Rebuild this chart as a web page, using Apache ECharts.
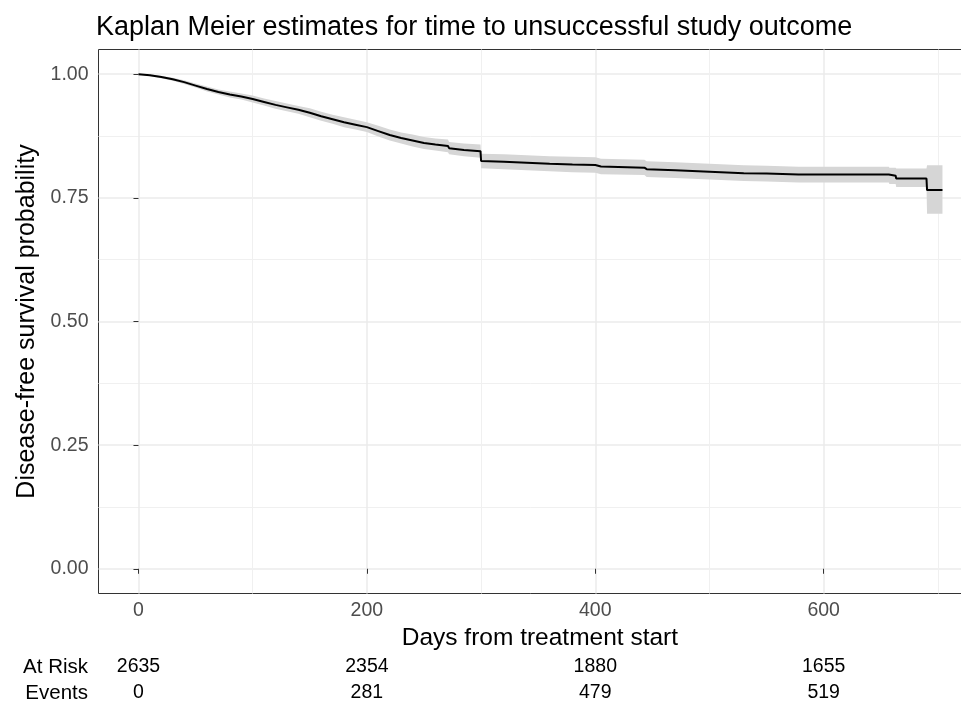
<!DOCTYPE html>
<html><head><meta charset="utf-8">
<script src="https://cdn.jsdelivr.net/npm/echarts@6/dist/echarts.min.js"></script>
<style>html,body{margin:0;padding:0;background:#fff}#c{width:961px;height:703px}</style>
</head><body><div id="c"></div>
<script>
// Kaplan-Meier estimate: vertices of the drawn curve
const days  = [0, 10, 20, 30, 40, 50, 60, 70, 80, 90, 100, 110, 120, 130, 140, 150, 160, 170, 180, 190, 200, 210, 220, 230, 240, 250, 260, 271, 272, 285, 299.5, 300, 320, 340, 360, 380, 400, 405, 443, 445, 470, 490, 510, 530, 550, 578, 657, 657.5, 663, 663.5, 690, 690.5, 704];
const surv  = [1.000, 0.998, 0.9945, 0.990, 0.984, 0.977, 0.970, 0.964, 0.959, 0.955, 0.950, 0.944, 0.938, 0.933, 0.928, 0.922, 0.915, 0.909, 0.903, 0.898, 0.893, 0.885, 0.877, 0.871, 0.866, 0.861, 0.858, 0.855, 0.8505, 0.847, 0.8445, 0.8245, 0.823, 0.821, 0.819, 0.8175, 0.8165, 0.8135, 0.811, 0.808, 0.806, 0.804, 0.802, 0.800, 0.7993, 0.7973, 0.7973, 0.7946, 0.7946, 0.7893, 0.7893, 0.7657, 0.7657];
const lower = [1.000, 0.996, 0.992, 0.987, 0.980, 0.973, 0.965, 0.959, 0.953, 0.949, 0.943, 0.937, 0.930, 0.925, 0.920, 0.913, 0.906, 0.900, 0.893, 0.888, 0.883, 0.874, 0.866, 0.860, 0.854, 0.849, 0.846, 0.842, 0.838, 0.834, 0.831, 0.810, 0.808, 0.806, 0.804, 0.802, 0.801, 0.798, 0.796, 0.792, 0.790, 0.788, 0.786, 0.784, 0.783, 0.781, 0.781, 0.778, 0.778, 0.772, 0.772, 0.718, 0.718];
const upper = [1.000, 1.000, 0.997, 0.993, 0.988, 0.981, 0.975, 0.969, 0.965, 0.961, 0.957, 0.951, 0.946, 0.941, 0.936, 0.931, 0.924, 0.918, 0.913, 0.908, 0.903, 0.896, 0.888, 0.882, 0.878, 0.873, 0.870, 0.868, 0.863, 0.860, 0.858, 0.839, 0.838, 0.836, 0.834, 0.833, 0.832, 0.829, 0.827, 0.824, 0.822, 0.820, 0.818, 0.816, 0.815, 0.813, 0.813, 0.811, 0.811, 0.8095, 0.8095, 0.816, 0.816];

// risk table
const riskDays = [0, 200, 400, 600];
const atRisk   = [2635, 2354, 1880, 1655];
const events   = [0, 281, 479, 519];

// axis ticks (major with labels, minor gridlines)
const xTickLabels = [0, 200, 400, 600];
const xMinorTicks = [100, 300, 500, 700];
const yTickLabels = [0, 0.25, 0.5, 0.75, 1];
const yMinorTicks = [0.125, 0.375, 0.625, 0.875];

const FONT = '"Liberation Sans", Arial, Helvetica, sans-serif';
const chart = echarts.init(document.getElementById('c'), null, {renderer: 'canvas'});

const xMin = -35, xMax = 738, yMin = -0.05, yMax = 1.05;

const lineData = days.map((d, i) => [d, surv[i]]);

chart.setOption({
  animation: false,
  textStyle: {fontFamily: FONT},
  title: {
    text: 'Kaplan Meier estimates for time to unsuccessful study outcome',
    left: 96, top: 14, padding: 0,
    textStyle: {fontFamily: FONT, fontSize: 27, fontWeight: 'normal', color: '#000'}
  },
  grid: [{left: 98.5, top: 49.5, width: 882.8, height: 544, show: true,
          borderColor: '#333333', borderWidth: 1, backgroundColor: '#ffffff',
          containLabel: false, outerBoundsMode: 'none'}],
  xAxis: [{
    type: 'value', min: xMin, max: xMax, interval: 200,
    name: 'Days from treatment start', nameLocation: 'middle', nameGap: 31,
    nameTextStyle: {fontFamily: FONT, fontSize: 24.5, color: '#000'},
    axisLine: {show: false},
    axisTick: {show: true, length: 5, lineStyle: {color: '#333333', width: 1},
               customValues: xTickLabels},
    axisLabel: {fontFamily: FONT, fontSize: 19.5, color: '#4D4D4D', margin: 7,
                customValues: xTickLabels,
                formatter: v => String(v)},
    splitLine: {show: true, lineStyle: {color: '#EBEBEB', width: 1.5}}
  }, {
    type: 'value', min: xMin, max: xMax, gridIndex: 0,
    axisLine: {show: false},
    axisTick: {show: false, customValues: xMinorTicks},
    axisLabel: {show: false, customValues: xMinorTicks},
    splitLine: {show: true, lineStyle: {color: '#F0F0F0', width: 1}}
  }],
  yAxis: [{
    type: 'value', min: yMin, max: yMax, interval: 0.25,
    name: 'Disease-free survival probability', nameLocation: 'middle', nameGap: 43, nameRotate: 90,
    nameTextStyle: {fontFamily: FONT, fontSize: 25, color: '#000'},
    axisLine: {show: false},
    axisTick: {show: true, length: 5, lineStyle: {color: '#333333', width: 1},
               customValues: yTickLabels},
    axisLabel: {fontFamily: FONT, fontSize: 19.5, color: '#4D4D4D', margin: 10,
                customValues: yTickLabels,
                formatter: v => v.toFixed(2)},
    splitLine: {show: true, lineStyle: {color: '#EBEBEB', width: 1.5}}
  }, {
    type: 'value', min: yMin, max: yMax, gridIndex: 0,
    axisLine: {show: false},
    axisTick: {show: false, customValues: yMinorTicks},
    axisLabel: {show: false, customValues: yMinorTicks},
    splitLine: {show: true, lineStyle: {color: '#F0F0F0', width: 1}}
  }],
  series: [{
    type: 'custom', name: 'band', coordinateSystem: 'cartesian2d',
    xAxisIndex: 0, yAxisIndex: 0, data: [[days[0], surv[0]]], clip: true, silent: true, z: 2,
    renderItem: (params, api) => {
      const pts = [];
      for (let i = 0; i < days.length; i++) pts.push(api.coord([days[i], upper[i]]));
      for (let i = days.length - 1; i >= 0; i--) pts.push(api.coord([days[i], lower[i]]));
      return {type: 'polygon', shape: {points: pts}, style: {fill: '#D6D6D6'}};
    }
  }, {
    type: 'line', name: 'KM', data: lineData, xAxisIndex: 0, yAxisIndex: 0,
    symbol: 'none', lineStyle: {color: '#000000', width: 2}, z: 3
  }]
});

// risk table positioned through the x scale
const graphics = [];
const rowY = [667, 693];
const rowNames = ['At Risk', 'Events'];
const rowVals = [atRisk, events];
rowNames.forEach((nm, r) => {
  graphics.push({type: 'text', x: 88, y: rowY[r],
    style: {text: nm, font: '20.5px ' + FONT, fill: '#000', align: 'right', verticalAlign: 'middle'}});
  riskDays.forEach((d, i) => {
    const px = chart.convertToPixel({xAxisIndex: 0}, d);
    graphics.push({type: 'text', x: px, y: rowY[r],
      style: {text: String(rowVals[r][i]), font: '19.5px ' + FONT, fill: '#000', align: 'center', verticalAlign: 'middle'}});
  });
});
chart.setOption({graphic: graphics});
</script>
</body></html>
